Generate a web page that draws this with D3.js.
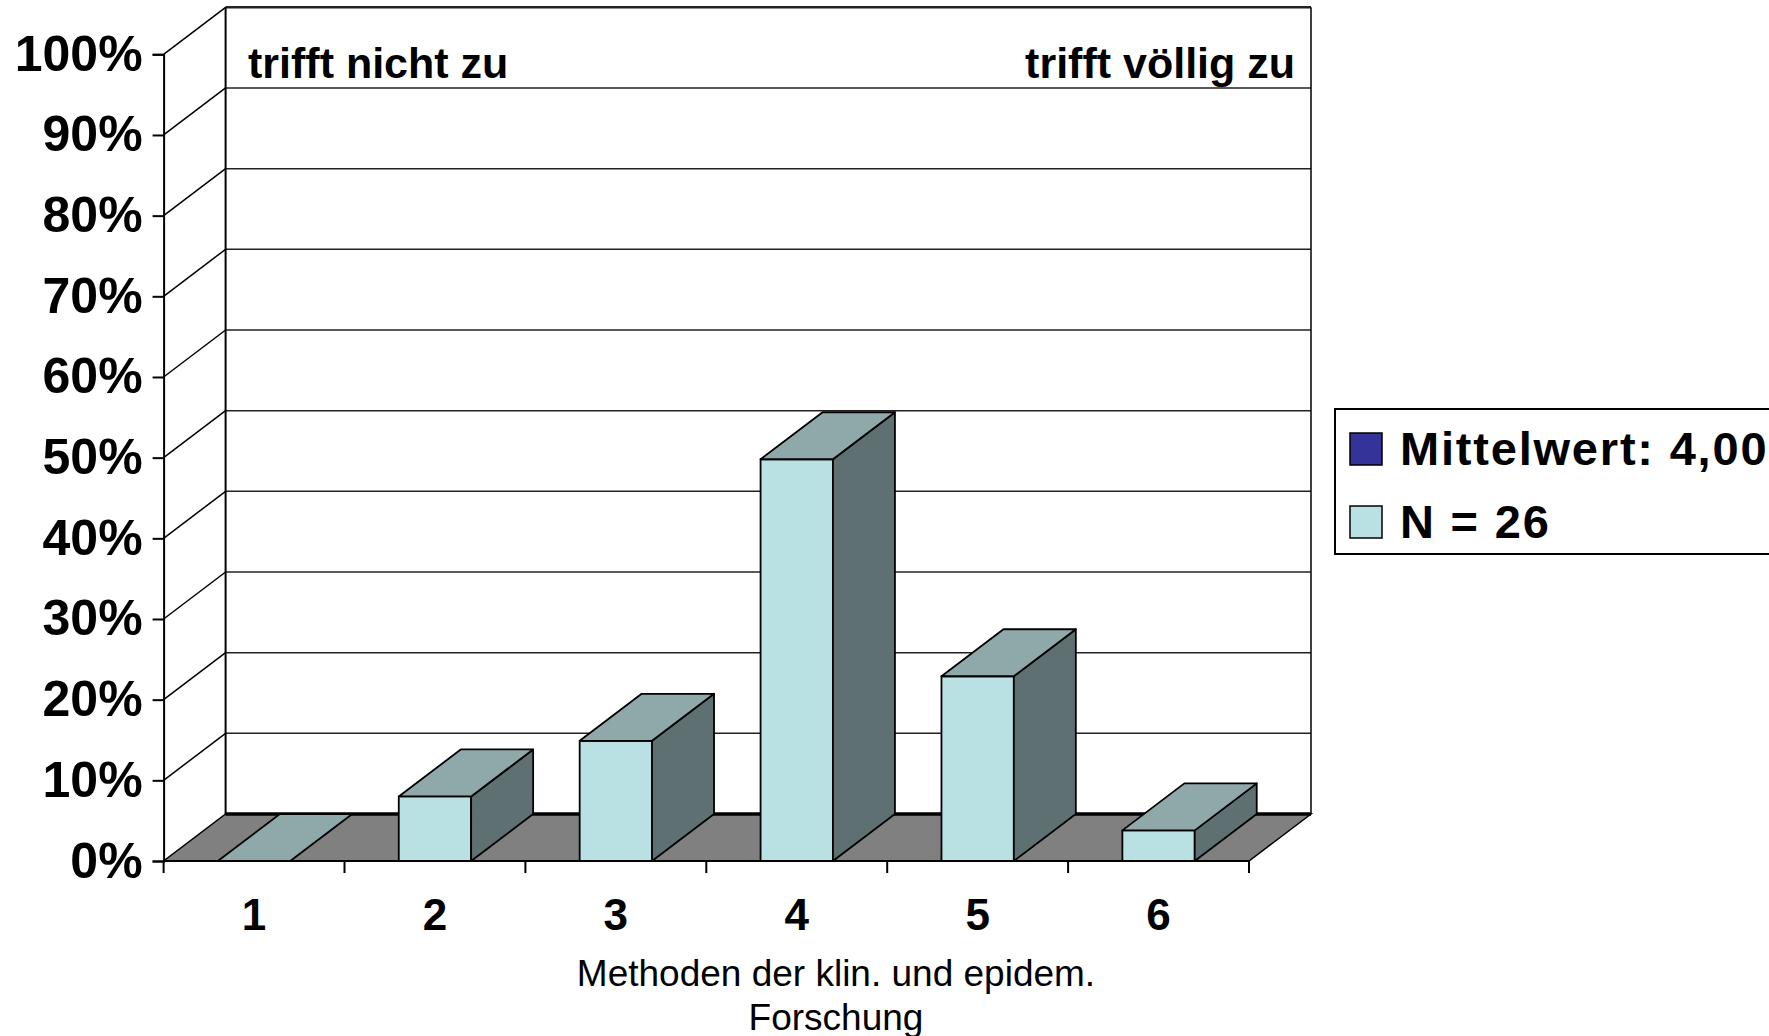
<!DOCTYPE html>
<html>
<head>
<meta charset="utf-8">
<script src="https://cdn.jsdelivr.net/npm/d3@7"></script>
<style>
  html, body { margin: 0; padding: 0; background: #fff; overflow: hidden; }
  svg { display: block; font-family: "Liberation Sans", Arial, sans-serif; }
</style>
</head>
<body>
<svg id="chart" width="1769" height="1036"></svg>
<script>
// data (percent of N = 26)
var categories = ["1", "2", "3", "4", "5", "6"];
var values = [0, 8.0, 14.9, 49.8, 22.9, 3.8];
var yTicks = [0, 10, 20, 30, 40, 50, 60, 70, 80, 90, 100];
var legendLabels = ["Mittelwert: 4,00", "N = 26"];
var cornerLabels = ["trifft nicht zu", "trifft völlig zu"];
var xTitle = ["Methoden der klin. und epidem.", "Forschung"];

var colFront = "#b9e0e3", colTop = "#8fa9ab", colSide = "#5f7072";
var colFloor = "#808080", colMean = "#333399";

var svg = d3.select("#chart");

// front plane + depth offset of the 3d box
var x0 = 163.6, x1 = 1249, dx = 62, dy = -47;
var x = d3.scaleBand().domain(categories).range([x0, x1]);
var y = d3.scaleLinear().domain([0, 100]).range([861, 54.3]);

// back wall
var back = svg.append("g");
back.append("rect")
  .attr("x", x0 + dx).attr("y", y(100) + dy)
  .attr("width", x1 - x0).attr("height", y(0) - y(100))
  .attr("fill", "#fff");
back.selectAll("line.grid").data(yTicks.slice(1)).enter().append("line")
  .attr("x1", x0 + dx).attr("x2", x1 + dx)
  .attr("y1", function(d) { return y(d) + dy; })
  .attr("y2", function(d) { return y(d) + dy; })
  .attr("stroke", "#222").attr("stroke-width", d => d == 100 ? 2.5 : 1.5);
back.append("line")
  .attr("x1", x0 + dx).attr("x2", x0 + dx)
  .attr("y1", y(100) + dy).attr("y2", y(0) + dy)
  .attr("stroke", "#000").attr("stroke-width", 2);
back.append("line")
  .attr("x1", x1 + dx).attr("x2", x1 + dx)
  .attr("y1", y(100) + dy).attr("y2", y(0) + dy)
  .attr("stroke", "#000").attr("stroke-width", 1.5);

// left wall diagonals
back.selectAll("line.diag").data(yTicks.slice(1)).enter().append("line")
  .attr("x1", x0).attr("x2", x0 + dx)
  .attr("y1", function(d) { return y(d); })
  .attr("y2", function(d) { return y(d) + dy; })
  .attr("stroke", "#000").attr("stroke-width", 1.5);

// floor
svg.append("path")
  .attr("d", "M" + x0 + "," + y(0) + "L" + x1 + "," + y(0) +
             "L" + (x1 + dx) + "," + (y(0) + dy) + "L" + (x0 + dx) + "," + (y(0) + dy) + "Z")
  .attr("fill", colFloor).attr("stroke", "#000").attr("stroke-width", 1.5);
svg.append("line")
  .attr("x1", x0 + dx).attr("x2", x1 + dx)
  .attr("y1", y(0) + dy).attr("y2", y(0) + dy)
  .attr("stroke", "#000").attr("stroke-width", 3.5);

// bars
var bw = x.bandwidth() * 0.4;
var bars = svg.append("g").selectAll("g").data(values).enter().append("g");
bars.each(function(v, i) {
  var g = d3.select(this);
  var bx = x(categories[i]) + (x.bandwidth() - bw) / 2;
  var yt = y(v), yb = y(0);
  var pts = function(a) { return a.map(function(p) { return p.join(","); }).join(" "); };
  if (v > 0) {
    g.append("polygon").attr("points", pts([[bx, yt], [bx + bw, yt], [bx + bw, yb], [bx, yb]]))
      .attr("fill", colFront);
    g.append("polygon").attr("points", pts([[bx + bw, yt], [bx + bw + dx, yt + dy], [bx + bw + dx, yb + dy], [bx + bw, yb]]))
      .attr("fill", colSide);
  }
  g.append("polygon").attr("points", pts([[bx, yt], [bx + dx, yt + dy], [bx + bw + dx, yt + dy], [bx + bw, yt]]))
    .attr("fill", colTop);
  g.selectAll("polygon").attr("stroke", "#000").attr("stroke-width", 1.8).attr("stroke-linejoin", "round");
});

// y axis
var yAxis = svg.append("g")
  .attr("transform", "translate(" + x0 + ",0)")
  .call(d3.axisLeft(y).tickValues(yTicks).tickFormat(function(d) { return d + "%"; })
    .tickSize(11).tickPadding(10));
yAxis.select(".domain").attr("stroke", "#000").attr("stroke-width", 2);
yAxis.selectAll(".tick line").attr("stroke", "#000").attr("stroke-width", 2);
yAxis.selectAll(".tick text")
  .attr("font-size", 50).attr("font-weight", "bold").attr("fill", "#000")
  .attr("font-family", "'Liberation Sans', Arial, sans-serif");

// x axis: boundary ticks + centred labels
var bounds = categories.map(function(c) { return x(c); }).concat([x1]);
svg.append("g").selectAll("line").data(bounds).enter().append("line")
  .attr("x1", d => d).attr("x2", d => d)
  .attr("y1", y(0)).attr("y2", y(0) + 12)
  .attr("stroke", "#000").attr("stroke-width", 2);
svg.append("line")
  .attr("x1", x0).attr("x2", x1).attr("y1", y(0)).attr("y2", y(0))
  .attr("stroke", "#000").attr("stroke-width", 2);
var xAxis = svg.append("g")
  .attr("transform", "translate(0," + y(0) + ")")
  .call(d3.axisBottom(x).tickSize(0).tickPadding(38));
xAxis.select(".domain").remove();
xAxis.selectAll(".tick text")
  .attr("font-size", 44).attr("font-weight", "bold").attr("fill", "#000")
  .attr("font-family", "'Liberation Sans', Arial, sans-serif");

// axis title
svg.append("g").selectAll("text").data(xTitle).enter().append("text")
  .attr("x", 836).attr("y", (d, i) => 986 + i * 44)
  .attr("text-anchor", "middle").attr("font-size", 37)
  .text(d => d);

// corner captions on the back wall
svg.append("text").attr("x", 248).attr("y", 78)
  .attr("font-size", 43).attr("font-weight", "bold").text(cornerLabels[0]);
svg.append("text").attr("x", 1295).attr("y", 78).attr("text-anchor", "end")
  .attr("font-size", 43).attr("font-weight", "bold").text(cornerLabels[1]);

// legend
var lg = svg.append("g").attr("transform", "translate(1335,409)");
lg.append("rect").attr("width", 500).attr("height", 145)
  .attr("fill", "#fff").attr("stroke", "#000").attr("stroke-width", 2);
var items = lg.selectAll("g").data(legendLabels).enter().append("g")
  .attr("transform", (d, i) => "translate(15," + (24 + i * 73) + ")");
items.append("rect").attr("width", 32).attr("height", 32)
  .attr("fill", (d, i) => i == 0 ? colMean : colFront)
  .attr("stroke", "#000").attr("stroke-width", 1.5);
items.append("text").attr("x", 50).attr("y", 32)
  .attr("font-size", 47).attr("font-weight", "bold").attr("letter-spacing", 1.8)
  .text(d => d);
</script>
</body>
</html>
